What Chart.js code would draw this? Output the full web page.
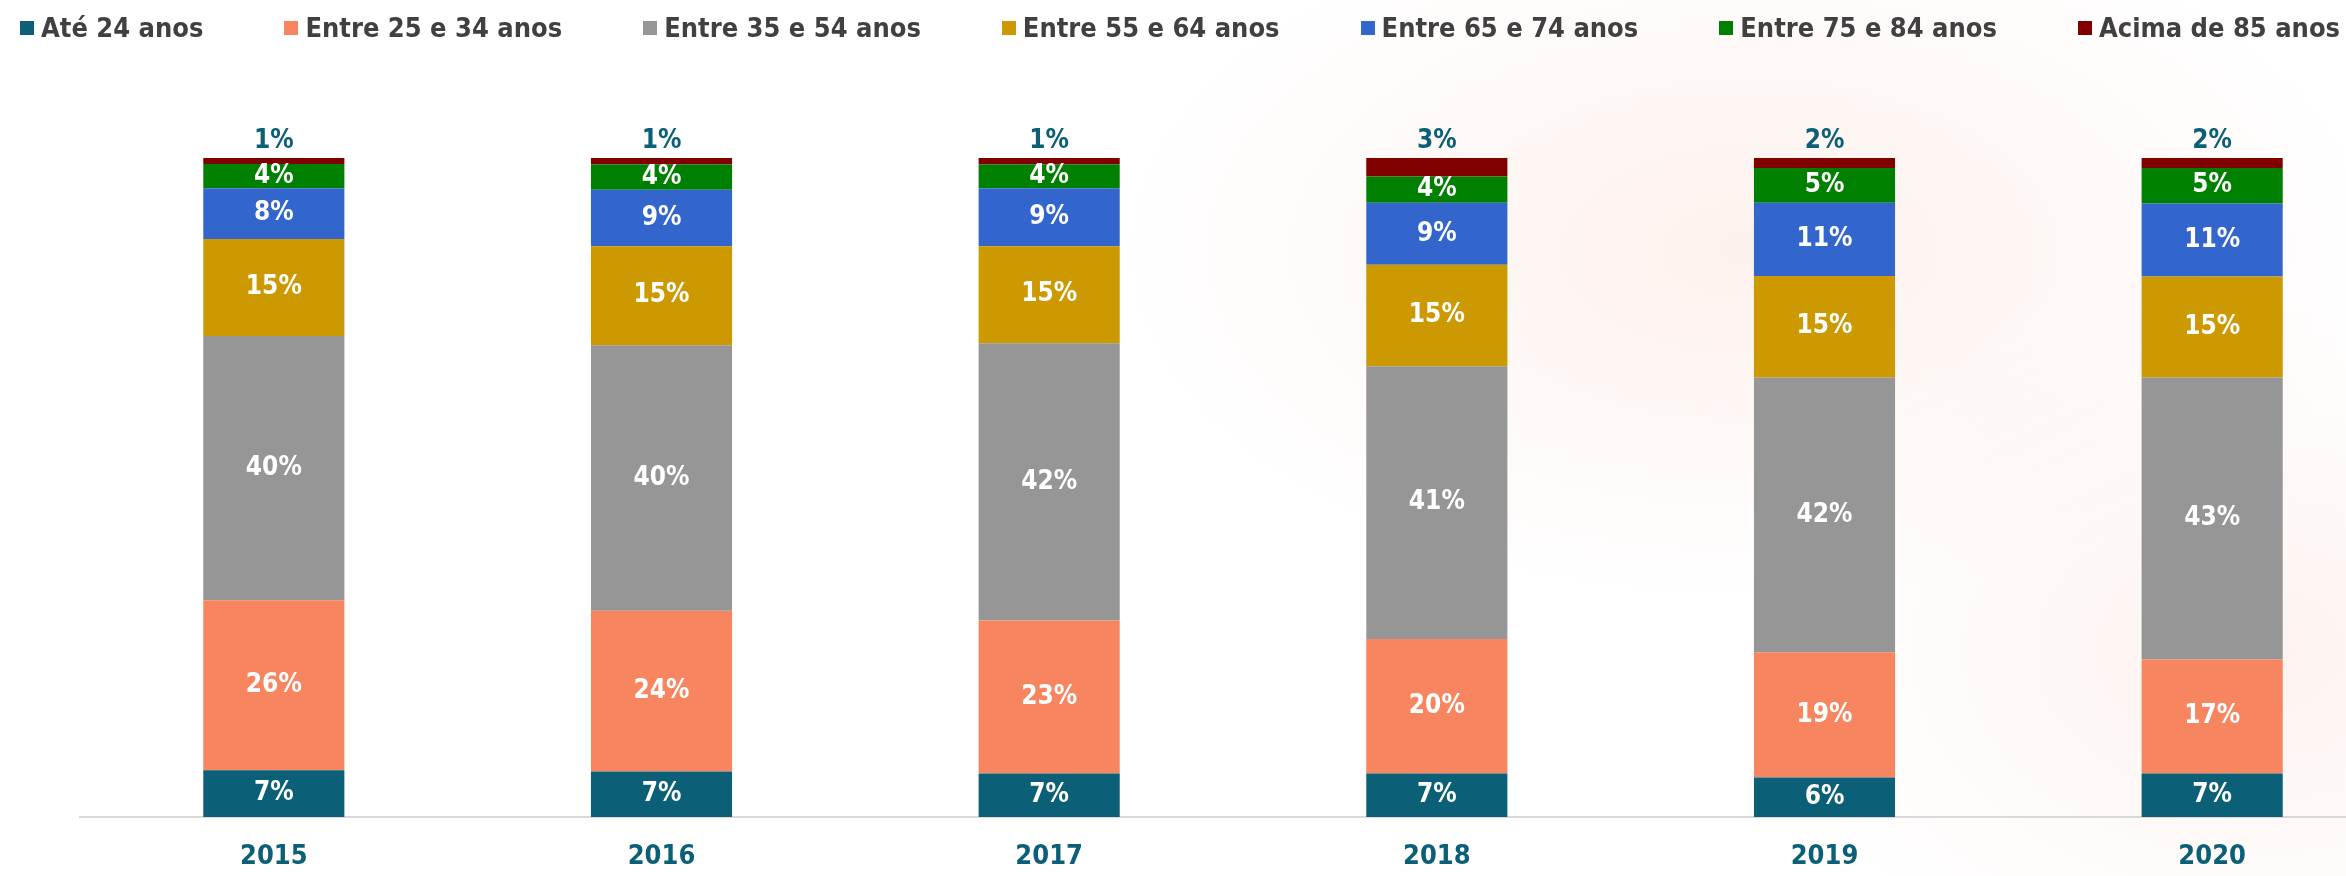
<!DOCTYPE html>
<html>
<head>
<meta charset="utf-8">
<script src="https://cdn.jsdelivr.net/npm/chart.js@4"></script>
<style>
html, body { margin: 0; padding: 0; overflow: hidden; background: #fff; }
#wrap {
  position: relative; width: 2346px; height: 876px; overflow: hidden;
  background:
    radial-gradient(ellipse 900px 500px at 1750px 250px, rgba(248,205,190,0.28), rgba(255,255,255,0) 70%),
    radial-gradient(ellipse 700px 500px at 2250px 650px, rgba(245,200,185,0.22), rgba(255,255,255,0) 70%),
    #fff;
}
#legend {
  position: absolute; left: 20px; top: 13px; display: flex; gap: 81px;
  font-family: "DejaVu Sans Condensed", "DejaVu Sans", sans-serif; font-weight: bold;
  font-size: 27px; line-height: 30px; color: #404040;
}
.item { display: flex; align-items: center; white-space: nowrap; }
.box { width: 14px; height: 14px; margin-right: 7px; }
canvas { position: absolute; left: 0; top: 0; }
</style>
</head>
<body>
<div id="wrap">
  <canvas id="ageChart" width="2406" height="876"></canvas>
  <div id="legend"></div>
</div>
<script>
// shares by age group, % per year
const years = ["2015", "2016", "2017", "2018", "2019", "2020"];
const ate24 = [7.1, 6.9, 6.6, 6.6, 6.0, 6.6];
const de25a34 = [25.8, 24.4, 23.2, 20.4, 19.0, 17.3];
const de35a54 = [40.1, 40.3, 42.1, 41.4, 41.7, 42.8];
const de55a64 = [14.7, 15.0, 14.7, 15.4, 15.4, 15.3];
const de65a74 = [7.7, 8.6, 8.8, 9.4, 11.1, 11.1];
const de75a84 = [3.7, 3.8, 3.6, 4.0, 5.3, 5.4];
const acima85 = [0.9, 1.0, 1.0, 2.8, 1.5, 1.5];

const teal = "#0b6077";
const labelFont = '"DejaVu Sans Condensed", "DejaVu Sans", sans-serif';

// percentage labels: white inside the segments, top group above the bar
const segmentLabels = {
  id: "segmentLabels",
  afterDatasetsDraw(chart) {
    const ctx = chart.ctx;
    const last = chart.data.datasets.length - 1;
    ctx.save();
    ctx.font = "bold 26px " + labelFont;
    ctx.textAlign = "center";
    ctx.textBaseline = "middle";
    chart.data.datasets.forEach((ds, i) => {
      chart.getDatasetMeta(i).data.forEach((bar, j) => {
        const txt = Math.round(ds.data[j]) + "%";
        if (i === last) {
          ctx.fillStyle = teal;
          ctx.fillText(txt, bar.x, bar.y - 17);
        } else {
          ctx.fillStyle = "#ffffff";
          ctx.fillText(txt, bar.x, (bar.y + bar.base) / 2);
        }
      });
    });
    ctx.restore();
  }
};

const chart = new Chart(document.getElementById("ageChart"), {
  type: "bar",
  data: {
    labels: years,
    datasets: [
      { label: "Até 24 anos", data: ate24, backgroundColor: teal },
      { label: "Entre 25 e 34 anos", data: de25a34, backgroundColor: "#f78560" },
      { label: "Entre 35 e 54 anos", data: de35a54, backgroundColor: "#969696" },
      { label: "Entre 55 e 64 anos", data: de55a64, backgroundColor: "#cc9900" },
      { label: "Entre 65 e 74 anos", data: de65a74, backgroundColor: "#3366cc" },
      { label: "Entre 75 e 84 anos", data: de75a84, backgroundColor: "#008000" },
      { label: "Acima de 85 anos", data: acima85, backgroundColor: "#800000" }
    ]
  },
  options: {
    responsive: false,
    animation: false,
    layout: { padding: { top: 158, left: 80, right: 0, bottom: 0 } },
    datasets: { bar: { categoryPercentage: 1, barPercentage: 0.364 } },
    plugins: { legend: { display: false }, tooltip: { enabled: false } },
    scales: {
      x: {
        stacked: true,
        grid: { display: false, drawTicks: false },
        border: { color: "#d9d9d9", width: 2 },
        ticks: { color: teal, padding: 24, font: { family: labelFont, size: 27, weight: "bold" } },
        afterFit: (s) => { s.height = 59; }
      },
      y: { stacked: true, min: 0, max: 100, display: false }
    }
  },
  plugins: [segmentLabels]
});

// legend as html, built from the chart's own legend items
const legendEl = document.getElementById("legend");
chart.options.plugins.legend.labels.generateLabels(chart).forEach((it) => {
  const item = document.createElement("div");
  item.className = "item";
  const box = document.createElement("span");
  box.className = "box";
  box.style.background = it.fillStyle;
  item.appendChild(box);
  item.appendChild(document.createTextNode(it.text));
  legendEl.appendChild(item);
});
</script>
</body>
</html>
